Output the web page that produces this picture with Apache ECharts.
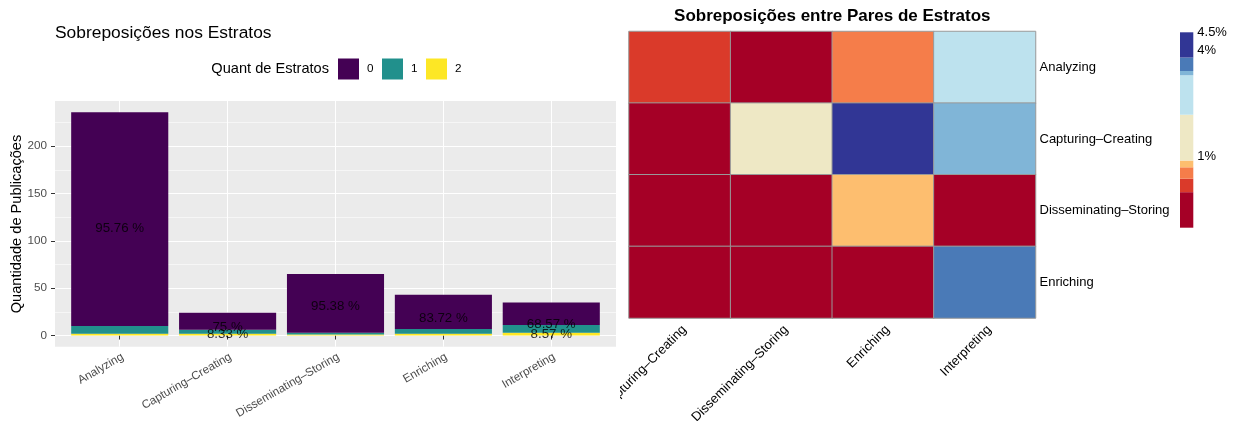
<!DOCTYPE html>
<html>
<head>
<meta charset="utf-8">
<script src="https://cdn.jsdelivr.net/npm/echarts@6/dist/echarts.min.js"></script>
<style>
  html, body { margin: 0; padding: 0; background: #ffffff; }
  #bars  { position: absolute; left: 0;     top: 0; width: 620px; height: 421px; }
  #pairs { position: absolute; left: 620px; top: 0; width: 620px; height: 421px; }
</style>
</head>
<body>
<div id="bars"></div>
<div id="pairs"></div>
<script>
// ---- publications per stratum, split by number of other strata shared ----
const strata = ['Analyzing', 'Capturing–Creating', 'Disseminating–Storing', 'Enriching', 'Interpreting'];
const groups = ['0', '1', '2'];
const count0 = [226, 18, 62, 36, 24];
const count1 = [8, 4, 2, 5, 8];
const count2 = [2, 2, 1, 2, 3];
const yTicks = [0, 50, 100, 150, 200];
const yMinorTicks = [25, 75, 125, 175, 225];
const labelledGroups = ['0', '2'];
const minLabelPct = 5;

// ---- overlap (%) between pairs of strata ----
const pairRows = ['Analyzing', 'Capturing–Creating', 'Disseminating–Storing', 'Enriching'];
const pairCols = ['Capturing–Creating', 'Disseminating–Storing', 'Enriching', 'Interpreting'];
const overlapAnalyzing  = [0.38, 0, 0.70, 3.29];
const overlapCapturing  = [0, 2.18, 4.5, 3.41];
const overlapDissem     = [0, 0, 0.89, 0];
const overlapEnriching  = [0, 0, 0, 3.79];
const colorBreaks = [-1, 0, 0.38, 0.70, 0.89, 2.18, 3.29, 3.41, 3.79, 4.5];
const bandColors = ['#A50026', '#DA3A2A', '#F57D4A', '#FDBE6F', '#EEE8C5',
                    '#BDE2EE', '#80B5D7', '#4A7AB7', '#313695'];
const legendTicks = [1, 4, 4.5];

const FONT = '"Liberation Sans", Arial, Helvetica, sans-serif';

// ================= stacked bars =================
const countsByGroup = { '0': count0, '1': count1, '2': count2 };
const groupColors = { '0': '#440154', '1': '#21908C', '2': '#FDE725' };
const totals = strata.map((_, i) => count0[i] + count1[i] + count2[i]);
const maxTotal = Math.max(...totals);
const yMin = -maxTotal * 0.05, yMax = maxTotal * 1.05;   // 5% expansion
const xPos = strata.map((_, i) => i + 1);                 // discrete positions 1..n
const xMin = 1 - 0.6, xMax = strata.length + 0.6;          // 0.6 expansion

// panel geometry; the bar grid covers exactly the category bands inside it
const panel = { left: 55, top: 101, width: 561, height: 245.7 };
const unit = panel.width / (xMax - xMin);
const bandLeft = panel.left + (xPos[0] - 0.5 - xMin) * unit;

// first series sits at the bottom of the stack
const stackOrder = groups.slice().reverse();
const barSeries = stackOrder.map(g => ({
  name: g,
  type: 'bar',
  stack: 'strata',
  xAxisIndex: 1,
  yAxisIndex: 2,
  barWidth: '90%',
  silent: true,
  z: 3,
  itemStyle: { color: groupColors[g] },
  data: countsByGroup[g]
}));

const pctLabels = [];
labelledGroups.forEach(g => {
  countsByGroup[g].forEach((v, i) => {
    const pct = v / totals[i] * 100;
    if (pct >= minLabelPct) pctLabels.push({ value: [xPos[i], v / 2], pct: pct });
  });
});

const barChart = echarts.init(document.getElementById('bars'), null, { renderer: 'canvas' });
barChart.setOption({
  animation: false,
  textStyle: { fontFamily: FONT },
  graphic: [
    { type: 'text', x: 55, y: 33, style: { text: 'Sobreposições nos Estratos', font: '17.4px ' + FONT, fill: '#000', textAlign: 'left', textVerticalAlign: 'middle' } },
    { type: 'text', x: 329, y: 69, style: { text: 'Quant de Estratos', font: '14.6px ' + FONT, fill: '#000', textAlign: 'right', textVerticalAlign: 'middle' } },
    { type: 'text', x: 17, y: 224, rotation: Math.PI / 2, style: { text: 'Quantidade de Publicações', font: '14.6px ' + FONT, fill: '#000', textAlign: 'center', textVerticalAlign: 'middle' } }
  ],
  legend: {
    data: groups,
    left: 338,
    top: 58.5,
    padding: 0,
    orient: 'horizontal',
    icon: 'rect',
    itemWidth: 21,
    itemHeight: 21,
    itemGap: 8.5,
    selectedMode: false,
    itemStyle: { borderWidth: 0 },
    textStyle: { fontSize: 11.7, color: '#000', fontFamily: FONT, padding: [0, 0, 0, 3] }
  },
  grid: [
    {
      left: panel.left, top: panel.top, width: panel.width, height: panel.height,
      outerBoundsMode: 'none',
      show: true, backgroundColor: '#EBEBEB', borderWidth: 0
    },
    {
      left: bandLeft, top: panel.top, width: strata.length * unit, height: panel.height,
      outerBoundsMode: 'none'
    }
  ],
  xAxis: [
    {
      type: 'value',
      gridIndex: 0,
      min: xMin,
      max: xMax,
      axisLine: { show: false },
      axisTick: { show: true, customValues: xPos, length: 4, lineStyle: { color: '#333333', width: 1 } },
      axisLabel: {
        customValues: xPos,
        formatter: v => strata[Math.round(v) - 1] || '',
        rotate: 30, align: 'right', verticalAlign: 'top', margin: 4,
        color: '#4D4D4D', fontSize: 11.7, fontFamily: FONT
      },
      splitLine: { show: true, lineStyle: { color: '#FFFFFF', width: 1.1 } }
    },
    {
      type: 'category',
      gridIndex: 1,
      data: strata,
      show: false
    }
  ],
  yAxis: [
    {
      type: 'value',
      gridIndex: 0,
      min: yMin,
      max: yMax,
      position: 'left',
      axisLine: { show: false },
      axisTick: { show: true, customValues: yTicks, length: 4, lineStyle: { color: '#333333', width: 1 } },
      axisLabel: { customValues: yTicks, color: '#4D4D4D', fontSize: 11.7, margin: 8, fontFamily: FONT },
      splitLine: { show: true, lineStyle: { color: '#FFFFFF', width: 1.1 } }
    },
    {
      type: 'value',
      gridIndex: 0,
      min: yMin,
      max: yMax,
      position: 'left',
      axisLine: { show: false },
      axisTick: { show: false, customValues: yMinorTicks },
      axisLabel: { show: false, customValues: yMinorTicks },
      splitLine: { show: true, lineStyle: { color: '#FFFFFF', width: 0.55 } }
    },
    {
      type: 'value',
      gridIndex: 1,
      min: yMin,
      max: yMax,
      show: false,
      splitLine: { show: false }
    }
  ],
  series: barSeries.concat([{
    name: 'pct',
    type: 'scatter',
    xAxisIndex: 0,
    yAxisIndex: 0,
    silent: true,
    z: 5,
    symbolSize: 1,
    itemStyle: { color: 'rgba(0,0,0,0)' },
    label: {
      show: true,
      position: 'inside',
      formatter: p => Number(p.data.pct.toFixed(2)) + ' %',
      color: '#000', fontSize: 13.3, fontFamily: FONT
    },
    data: pctLabels
  }])
});

// ================= pair heatmap =================
const overlapPct = [overlapAnalyzing, overlapCapturing, overlapDissem, overlapEnriching];
const heatData = [];
overlapPct.forEach((row, r) => row.forEach((v, c) => heatData.push([c, r, v])));
const bandData = bandColors.map((c, i) => [colorBreaks[i], colorBreaks[i + 1]]);

const pairChart = echarts.init(document.getElementById('pairs'), null, { renderer: 'canvas' });
pairChart.setOption({
  animation: false,
  textStyle: { fontFamily: FONT },
  graphic: [
    { type: 'text', x: 212.3, y: 16, style: { text: 'Sobreposições entre Pares de Estratos', font: 'bold 17px ' + FONT, fill: '#000', textAlign: 'center', textVerticalAlign: 'middle' } }
  ],
  grid: [
    { left: 9, top: 31.5, width: 406.5, height: 286.5, outerBoundsMode: 'none' },
    { left: 560, top: 32.3, width: 13.3, height: 195.4, outerBoundsMode: 'none' }
  ],
  xAxis: [
    {
      type: 'category', gridIndex: 0, data: pairCols, position: 'bottom',
      axisLine: { show: false }, axisTick: { show: false }, splitLine: { show: false },
      axisLabel: { interval: 0, rotate: 45, align: 'right', verticalAlign: 'top', margin: 5, color: '#000', fontSize: 13, fontFamily: FONT }
    },
    { type: 'value', gridIndex: 1, min: 0, max: 1, show: false }
  ],
  yAxis: [
    {
      type: 'category', gridIndex: 0, data: pairRows, inverse: true, position: 'right',
      axisLine: { show: false }, axisTick: { show: false }, splitLine: { show: false },
      axisLabel: { interval: 0, margin: 4, color: '#000', fontSize: 13, fontFamily: FONT }
    },
    {
      type: 'value', gridIndex: 1, min: colorBreaks[0], max: colorBreaks[colorBreaks.length - 1], position: 'right',
      axisLine: { show: false }, splitLine: { show: false },
      axisTick: { show: false, customValues: legendTicks },
      axisLabel: { customValues: legendTicks, formatter: v => v + '%', margin: 4, color: '#000', fontSize: 13, fontFamily: FONT }
    }
  ],
  visualMap: {
    type: 'piecewise',
    show: false,
    seriesIndex: 0,
    dimension: 2,
    pieces: bandColors.map((c, i) => ({ gt: colorBreaks[i], lte: colorBreaks[i + 1], color: c }))
  },
  series: [
    {
      type: 'heatmap', xAxisIndex: 0, yAxisIndex: 0, silent: true,
      itemStyle: { borderColor: '#999999', borderWidth: 1 },
      data: heatData
    },
    {
      type: 'custom', xAxisIndex: 1, yAxisIndex: 1, silent: true,
      data: bandData,
      encode: { x: [], y: [0, 1] },
      renderItem: (params, api) => {
        const lo = api.value(0), hi = api.value(1);
        const p0 = api.coord([0, lo]);
        const p1 = api.coord([1, hi]);
        return {
          type: 'rect',
          shape: { x: p0[0], y: p1[1], width: p1[0] - p0[0], height: p0[1] - p1[1] },
          style: { fill: bandColors[params.dataIndex] }
        };
      }
    }
  ]
});
</script>
</body>
</html>
